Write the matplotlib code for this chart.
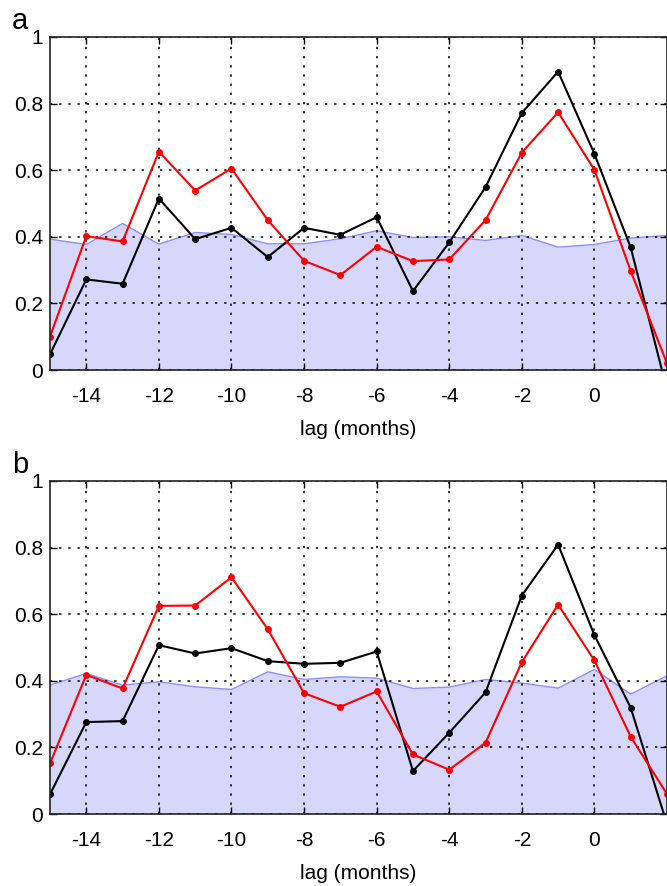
import matplotlib
matplotlib.use("Agg")
import matplotlib.pyplot as plt
import numpy as np

lags = [-15, -14, -13, -12, -11, -10, -9, -8, -7, -6, -5, -4, -3, -2, -1, 0, 1, 2]

# Panel a
a_black = [0.047, 0.272, 0.259, 0.515, 0.393, 0.427, 0.339, 0.427, 0.406, 0.459,
           0.237, 0.383, 0.549, 0.772, 0.896, 0.649, 0.368, -0.06]
a_red = [0.100, 0.402, 0.386, 0.656, 0.539, 0.605, 0.450, 0.328, 0.285, 0.370,
         0.327, 0.332, 0.450, 0.653, 0.774, 0.601, 0.297, 0.02]
a_sig = [0.393, 0.377, 0.440, 0.378, 0.413, 0.407, 0.379, 0.379, 0.394, 0.418,
         0.398, 0.400, 0.389, 0.404, 0.369, 0.377, 0.396, 0.404]

# Panel b
b_black = [0.059, 0.276, 0.279, 0.507, 0.482, 0.498, 0.459, 0.451, 0.454, 0.488,
           0.129, 0.244, 0.365, 0.656, 0.809, 0.537, 0.319, -0.03]
b_red = [0.152, 0.418, 0.377, 0.625, 0.626, 0.711, 0.555, 0.363, 0.322, 0.368,
         0.179, 0.133, 0.214, 0.456, 0.629, 0.461, 0.232, 0.06]
b_sig = [0.387, 0.422, 0.387, 0.397, 0.382, 0.374, 0.427, 0.404, 0.412, 0.408,
         0.377, 0.381, 0.404, 0.393, 0.378, 0.434, 0.360, 0.415]

xticks = [-14, -12, -10, -8, -6, -4, -2, 0]
yticks = [0, 0.2, 0.4, 0.6, 0.8, 1]
ytick_labels = ["0", "0.2", "0.4", "0.6", "0.8", "1"]
panel_labels = ["a", "b"]
xlabel = "lag (months)"

plt.rcParams['font.family'] = ['Liberation Sans', 'DejaVu Sans']

fig = plt.figure(figsize=(6.67, 8.86), dpi=100)
W, H = 667, 886
boxes = [(50, 37), (50, 481)]
ax_w, ax_h = 617, 333

data = [(a_black, a_red, a_sig), (b_black, b_red, b_sig)]

for i, ((x0, ytop), (blk, red, sig)) in enumerate(zip(boxes, data)):
    ax = fig.add_axes([x0 / W, 1 - (ytop + ax_h) / H, ax_w / W, ax_h / H])
    ax.fill_between(lags, 0, sig, color='#d7d7fb', zorder=1, linewidth=0)
    ax.plot(lags, sig, color='#8c8cff', linewidth=1.0, zorder=2)
    ax.plot(lags, blk, color='black', linewidth=1.5, marker='o', markersize=4,
            zorder=4, clip_on=True)
    ax.plot(lags, red, color='red', linewidth=1.5, marker='o', markersize=4,
            zorder=4, clip_on=True)
    ax.set_xlim(-15, 2)
    ax.set_ylim(0, 1)
    ax.set_xticks(xticks)
    ax.set_xticklabels([str(t) for t in xticks])
    ax.set_yticks(yticks)
    ax.set_yticklabels(ytick_labels)
    ax.grid(True, color='black', linestyle=(0, (1.5, 4.5)), linewidth=1.1, zorder=3)
    ax.set_axisbelow(False)
    ax.tick_params(direction='in', length=5, width=1, labelsize=15,
                   top=True, right=True, colors='black')
    ax.tick_params(axis='x', pad=12.5)
    ax.tick_params(axis='y', pad=5)
    for sp in ax.spines.values():
        sp.set_linewidth(1.2)
        sp.set_color('#222222')
        sp.set_zorder(5)
    ax.set_xlabel(xlabel, fontsize=15, labelpad=10)
    fig.text(12 / W, 1 - (ytop - 8) / H, panel_labels[i], fontsize=21,
             ha='left', va='baseline')

fig.savefig("out.png", dpi=100)
